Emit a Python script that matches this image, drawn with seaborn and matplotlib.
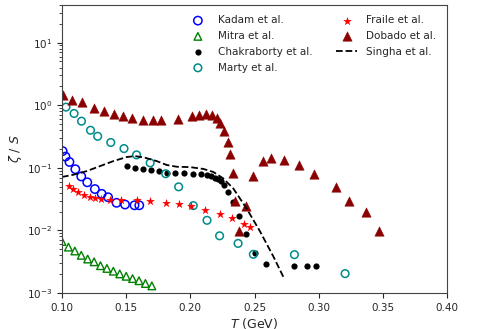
import matplotlib
matplotlib.use('Agg')
import matplotlib.pyplot as plt
import pandas as pd
import seaborn as sns

# Data (T in GeV, zeta/S)
kadam_T = [0.1005, 0.1027, 0.1058, 0.1104, 0.1150, 0.1197, 0.1256, 0.1309,
           0.1359, 0.1425, 0.1491, 0.1565, 0.1602]
kadam_z = [0.185, 0.151, 0.124, 0.095, 0.0728, 0.0587, 0.0458, 0.0384,
           0.0339, 0.0276, 0.0259, 0.0252, 0.0252]

mitra_T = [0.100, 0.105, 0.110, 0.115, 0.120, 0.125, 0.130, 0.135,
           0.140, 0.145, 0.150, 0.155, 0.160, 0.165, 0.170]
mitra_z = [0.00666, 0.00541, 0.00469, 0.0040, 0.00349, 0.00315, 0.00273,
           0.00247, 0.00223, 0.00202, 0.00185, 0.00170, 0.00157, 0.00142,
           0.00130]

chak_T = [0.1508, 0.1569, 0.1630, 0.1694, 0.1758, 0.1818, 0.1881, 0.1947,
          0.2017, 0.2081, 0.2129, 0.2161, 0.2191, 0.2216, 0.2238, 0.2259,
          0.2295, 0.2330, 0.2378, 0.2433, 0.2500, 0.2591, 0.2804, 0.2907,
          0.2982]
chak_z = [0.1052, 0.1004, 0.0968, 0.0918, 0.0882, 0.0837, 0.0828, 0.0813,
          0.0798, 0.0789, 0.0769, 0.0728, 0.0689, 0.0651, 0.0605, 0.0537,
          0.0407, 0.0289, 0.0170, 0.00866, 0.00435, 0.00296, 0.00266,
          0.00266, 0.00266]

marty_T = [0.1031, 0.1094, 0.1152, 0.1222, 0.1278, 0.1380, 0.1483, 0.1581,
           0.1687, 0.1808, 0.1909, 0.2023, 0.2130, 0.2228, 0.2372, 0.2491,
           0.2811, 0.3206]
marty_z = [0.932, 0.738, 0.556, 0.398, 0.319, 0.254, 0.203, 0.161, 0.120,
           0.0804, 0.0497, 0.0249, 0.0145, 0.0082, 0.0062, 0.00415, 0.0041,
           0.00204]

fraile_T = [0.1058, 0.1083, 0.1123, 0.1170, 0.1221, 0.1261, 0.1302, 0.1373,
            0.1460, 0.1581, 0.1684, 0.1809, 0.1910, 0.2004, 0.2116, 0.2233,
            0.2325, 0.2420, 0.2465]
fraile_z = [0.0508, 0.0458, 0.0410, 0.0374, 0.0344, 0.0329, 0.0317, 0.0309,
            0.0302, 0.0302, 0.0291, 0.0276, 0.0261, 0.0242, 0.0215, 0.0184,
            0.0157, 0.0128, 0.0112]

dobado_T = [0.1010, 0.1080, 0.1154, 0.1252, 0.1330, 0.1403, 0.1473, 0.1548,
            0.1634, 0.1707, 0.1772, 0.1902, 0.2016, 0.2068, 0.2120, 0.2167,
            0.2206, 0.2231, 0.2263, 0.2291, 0.2312, 0.2329, 0.2348, 0.2380,
            0.2434, 0.2489, 0.2564, 0.2631, 0.2728, 0.2850, 0.2966, 0.3132,
            0.3235, 0.3372, 0.3473]
dobado_z = [1.45, 1.22, 1.13, 0.908, 0.804, 0.728, 0.668, 0.621, 0.583,
            0.583, 0.583, 0.598, 0.661, 0.693, 0.712, 0.693, 0.628, 0.516,
            0.394, 0.259, 0.164, 0.0834, 0.0292, 0.0099, 0.0243, 0.0736,
            0.128, 0.145, 0.133, 0.109, 0.0792, 0.0494, 0.030, 0.0197, 0.0098]

singha_T = [0.100, 0.1088, 0.1192, 0.1296, 0.1400, 0.1504, 0.1569, 0.1647,
            0.1738, 0.1816, 0.1894, 0.1998, 0.2101, 0.2179, 0.2257, 0.2335,
            0.2439, 0.2543, 0.2647, 0.2730]
singha_z = [0.0714, 0.0774, 0.0885, 0.1064, 0.128, 0.1486, 0.154, 0.145,
            0.128, 0.111, 0.104, 0.1026, 0.096, 0.0859, 0.0676, 0.0467,
            0.0223, 0.00964, 0.00383, 0.00172]

sns.set_style('ticks')
plt.rcParams['font.family'] = ['DejaVu Sans']

fig, ax = plt.subplots(figsize=(4.98, 3.29), dpi=100)
fig.subplots_adjust(left=0.1245, right=0.8976, top=0.985, bottom=0.1094)

# open markers
sns.scatterplot(x=kadam_T, y=kadam_z, marker='o', s=36, facecolor='none',
                edgecolor='blue', linewidth=1.1, label='Kadam et al.', ax=ax)
sns.scatterplot(x=mitra_T, y=mitra_z, marker='^', s=30, facecolor='none',
                edgecolor='green', linewidth=1.0, label='Mitra et al.', ax=ax)
sns.scatterplot(x=chak_T, y=chak_z, marker='o', s=20, color='black',
                edgecolor='black', linewidth=0, label='Chakraborty et al.', ax=ax)
sns.scatterplot(x=marty_T, y=marty_z, marker='o', s=30, facecolor='none',
                edgecolor='darkcyan', linewidth=1.1, label='Marty et al.', ax=ax)
sns.scatterplot(x=fraile_T, y=fraile_z, marker='*', s=44, color='red',
                edgecolor='red', linewidth=0, label='Fraile et al.', ax=ax)
sns.scatterplot(x=dobado_T, y=dobado_z, marker='^', s=46, color='darkred',
                edgecolor='darkred', linewidth=0.3, label='Dobado et al.', ax=ax)
sns.lineplot(x=singha_T, y=singha_z, color='black', linestyle='--',
             linewidth=1.3, estimator=None, sort=False, label='Singha et al.', ax=ax)

ax.set_yscale('log')
ax.set_xlim(0.10, 0.40)
ax.set_ylim(1e-3, 40)
ax.set_xlabel('$T$ (GeV)', fontsize=9, labelpad=2)
ax.set_ylabel(r'$\zeta$ / $S$', fontsize=9, labelpad=2)
ax.tick_params(labelsize=7.5)
for sp in ax.spines.values():
    sp.set_color('#444444')

ax.legend(loc='upper right', ncol=2, frameon=False, fontsize=7.5,
          handletextpad=0.9, columnspacing=2.3, labelspacing=0.55,
          borderaxespad=0.6)

fig.savefig('out.png', dpi=100)
